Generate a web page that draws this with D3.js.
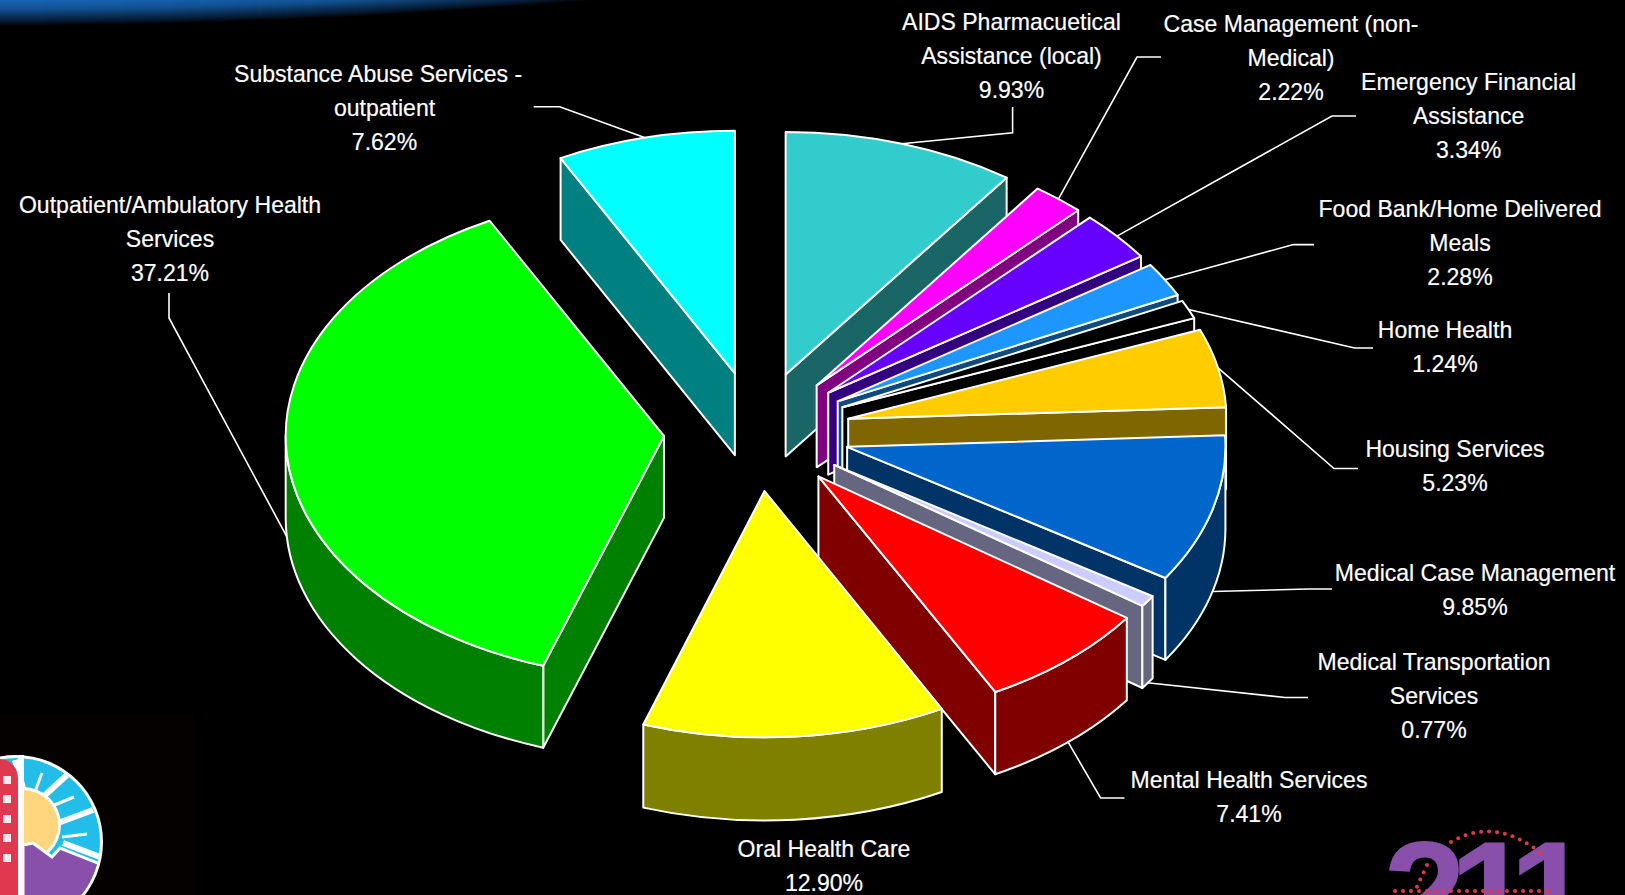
<!doctype html>
<html>
<head>
<meta charset="utf-8">
<title>Services pie</title>
<script src="https://d3js.org/d3.v7.min.js"></script>
<style>
  html, body { margin: 0; background: black; }
  svg { display: block; }
  text.lbl { font-family: "Liberation Sans", Arial, sans-serif; font-size: 24px; fill: white; stroke: white; stroke-width: 0.2; text-anchor: middle; dominant-baseline: central; }
  text.logo211 { font-family: "Liberation Sans", Arial, sans-serif; font-size: 150px; font-weight: bold; fill: #8850AA; }
</style>
</head>
<body>
<svg id="chart" width="1625" height="895"></svg>
<script>
// data
var categories = ['AIDS Pharmaceutical', 'Case Management', 'Emergency Financial', 'Food Bank', 'Home Health', 'Housing',
  'Medical Case Management', 'Medical Transportation', 'Mental Health', 'Oral Health', 'Outpatient', 'Substance Abuse'];
var values = [9.93, 2.22, 3.34, 2.28, 1.24, 5.23, 9.85, 0.77, 7.41, 12.90, 37.21, 7.62];
var labelLines = [
  ['AIDS Pharmacuetical', 'Assistance (local)', '9.93%'],
  ['Case Management (non-', 'Medical)', '2.22%'],
  ['Emergency Financial', 'Assistance', '3.34%'],
  ['Food Bank/Home Delivered', 'Meals', '2.28%'],
  ['Home Health', '1.24%'],
  ['Housing Services', '5.23%'],
  ['Medical Case Management', '9.85%'],
  ['Medical Transportation', 'Services', '0.77%'],
  ['Mental Health Services', '7.41%'],
  ['Oral Health Care', '12.90%'],
  ['Outpatient/Ambulatory Health', 'Services', '37.21%'],
  ['Substance Abuse Services -\u00a0\u00a0', 'outpatient', '7.62%']
];
var topColors = ['#33CCCC', '#FF00FF', '#6600FF', '#1E96FF', '#000000', '#FFCC00', '#0066CC', '#CCCCFF', '#FF0000', '#FFFF00', '#00FF00', '#00FFFF'];
var sideColors = ['#1A6666', '#800080', '#330080', '#0F4B80', '#000000', '#806600', '#003366', '#666680', '#800000', '#808000', '#008000', '#008080'];

// label placement
var labelX = [1011.5, 1291, 1468.6, 1460, 1445, 1455, 1475, 1434, 1249, 824, 170, 384.5];
var labelY = [21.8, 24, 82, 209, 330, 449, 573, 662, 780, 849, 205, 73.6];
var lineStep = 34;
// leader line: elbow then end next to the label
var leaderElbow = [[1012.6, 132.7], [1137, 57], [1332, 116], [1293.4, 244.6], [1354.6, 348], [1334, 468.5], [1308, 589], [1285, 697.5], [1100.6, 798], null, [169, 318], [559.7, 106.7]];
var leaderEnd = [[1012.6, 107], [1161, 57], [1356, 116], [1314, 244.6], [1373, 348], [1358, 468.5], [1332, 589], [1308, 697.5], [1124.5, 798], null, [169, 293], [533.7, 106.7]];

var cx = 757, cy = 431.4, radius = 378.3, tilt = 0.641, depth = 81.9, explode = 93.3;
var flatDepth = depth / tilt;

var svg = d3.select('#chart');

// blue swoosh top left, stacked bands following the curve
var swooshColor = d3.scaleLinear().domain([0, 4, 9, 16, 26]).range(['#000000', '#051a30', '#0c2f55', '#12508f', '#1766b8']);
var swooshX = d3.range(0, 621, 20);
d3.range(0, 27).forEach(function (t) {
  var band = d3.area().x(function (x) { return x; }).y0(0)
    .y1(function (x) { return Math.max(0, 26 - t - 26 * (x / 600) * (x / 600)); });
  svg.append('path').attr('d', band(swooshX)).attr('fill', swooshColor(t));
});

// pie
var pie = d3.pie().sort(null).startAngle(0).endAngle(2 * Math.PI)(values);
var arc = d3.arc().innerRadius(0).outerRadius(radius);

var root = svg.append('g').attr('transform', 'translate(' + cx + ',' + cy + ') scale(1,' + tilt + ')');

function polar(a, r) { return [r * Math.sin(a), -r * Math.cos(a)]; }

pie.forEach(function (d, i) {
  var mid = (d.startAngle + d.endAngle) / 2;
  var off = polar(mid, explode);
  // slices at the very front come out a little bigger, like in the original 3d view
  var near = Math.pow(Math.max(0, -Math.cos(mid)), 4);
  var g = root.append('g').attr('transform', 'translate(' + off[0] + ',' + off[1] + ') scale(' + (1 + 0.004 * near) + ',' + (1 + 0.016 * near) + ')');
  var style = function (sel, fill) {
    sel.attr('fill', fill).attr('stroke', 'white').attr('stroke-width', 2)
      .attr('stroke-linejoin', 'round').attr('vector-effect', 'non-scaling-stroke');
  };

  // flat side facing the viewer
  var edge = null;
  if (d.endAngle < Math.PI) edge = d.endAngle;
  else if (d.startAngle >= Math.PI) edge = d.startAngle;
  if (edge !== null) {
    var e = polar(edge, radius);
    var p = d3.path();
    p.moveTo(0, 0); p.lineTo(e[0], e[1]); p.lineTo(e[0], e[1] + flatDepth); p.lineTo(0, flatDepth); p.closePath();
    g.append('path').attr('d', p.toString()).call(style, sideColors[i]);
  }

  // rim, front half only
  var a0 = Math.max(d.startAngle, Math.PI / 2), a1 = Math.min(d.endAngle, 3 * Math.PI / 2);
  if (a1 > a0) {
    var q = d3.path();
    q.arc(0, 0, radius, a0 - Math.PI / 2, a1 - Math.PI / 2);
    q.arc(0, flatDepth, radius, a1 - Math.PI / 2, a0 - Math.PI / 2, true);
    q.closePath();
    g.append('path').attr('d', q.toString()).call(style, sideColors[i]);
  }

  g.append('path').attr('d', arc(d)).call(style, topColors[i]);
});

// leaders
var leader = d3.line();
pie.forEach(function (d, i) {
  if (!leaderElbow[i]) return;
  var mid = (d.startAngle + d.endAngle) / 2;
  var off = polar(mid, explode), rim = polar(mid, radius);
  var front = mid > Math.PI / 2 && mid < 3 * Math.PI / 2;
  var start = [cx + off[0] + rim[0], cy + (off[1] + rim[1]) * tilt + (front ? depth : 0)];
  svg.append('path').attr('d', leader([start, leaderElbow[i], leaderEnd[i]]))
    .attr('fill', 'none').attr('stroke', 'white').attr('stroke-width', 1.6);
});

// labels, the original font is a bit narrower than Liberation
labelLines.forEach(function (lines, i) {
  lines.forEach(function (line, j) {
    svg.append('text').attr('class', 'lbl')
      .attr('transform', 'translate(' + labelX[i] + ',' + (labelY[i] + j * lineStep) + ') scale(0.96,1)')
      .text(line);
  });
});

// logo bottom left
var logo = svg.append('g');
logo.append('rect').attr('x', 0).attr('y', 714).attr('width', 195).attr('height', 181).attr('fill', '#050100');
svg.append('clipPath').attr('id', 'logoClip').append('circle').attr('cx', 16).attr('cy', 842).attr('r', 84);
logo.append('circle').attr('cx', 16).attr('cy', 842).attr('r', 87).attr('fill', 'white');
logo.append('circle').attr('cx', 16).attr('cy', 842).attr('r', 84).attr('fill', '#22BDE8');
var inLogo = logo.append('g').attr('clip-path', 'url(#logoClip)');
[[15, 760, 25, 795, 6], [42, 773, 33, 797, 3], [67, 775, 43, 797, 6], [74, 797, 52, 806, 3], [93, 810, 58, 823, 6], [87, 834, 62, 837, 3], [100, 857, 63, 843, 6]].forEach(function (r) {
  inLogo.append('line').attr('x1', r[0]).attr('y1', r[1]).attr('x2', r[2]).attr('y2', r[3])
    .attr('stroke', 'white').attr('stroke-width', r[4]);
});
inLogo.append('circle').attr('cx', 23).attr('cy', 825).attr('r', 38).attr('fill', 'white');
inLogo.append('circle').attr('cx', 23).attr('cy', 825).attr('r', 35).attr('fill', '#FFD57E');
inLogo.append('path').attr('d', 'M23,845 L33,843 L52,857 L60,848 L110,868 L80,930 L23,930 Z')
  .attr('fill', '#8850AA').attr('stroke', 'white').attr('stroke-width', 3);
logo.append('rect').attr('x', 18).attr('y', 755).attr('width', 6).attr('height', 140).attr('fill', 'white');
logo.append('path').attr('d', 'M0,759 L6,760 Q18,766 18,778 L18,895 L0,895 Z').attr('fill', '#E0384F');
[780, 799, 819, 838, 858].forEach(function (y) {
  logo.append('rect').attr('x', 3).attr('y', y - 4).attr('width', 8).attr('height', 8).attr('fill', '#f6eaea');
});

// logo bottom right, digits placed one by one
svg.append('text').attr('class', 'logo211').attr('x', '1383 1449 1509').attr('y', 946).text('211');
var dots = svg.append('g').attr('fill', 'none').attr('stroke', '#E0384F').attr('stroke-width', 4)
  .attr('stroke-linecap', 'round').attr('stroke-dasharray', '0 8');
dots.append('path').attr('d', 'M1451,842 Q1495,816 1542,854');
dots.append('path').attr('d', 'M1395,891 L1550,891');
dots.append('path').attr('d', 'M1427,865 L1415,891');
</script>
</body>
</html>
